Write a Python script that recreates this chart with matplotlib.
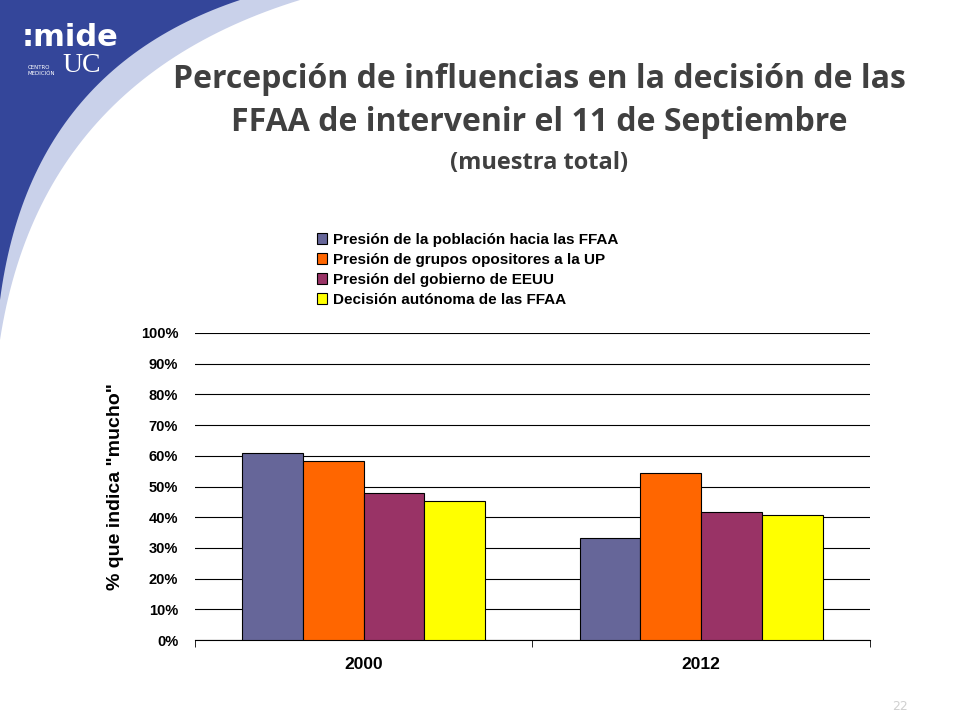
import matplotlib
matplotlib.use('Agg')
import matplotlib.pyplot as plt
from matplotlib.patches import Polygon
import numpy as np

years = ['2000', '2012']
series_names = ['Presión de la población hacia las FFAA',
                'Presión de grupos opositores a la UP',
                'Presión del gobierno de EEUU',
                'Decisión autónoma de las FFAA']
values_2000 = [60.9, 58.4, 47.9, 45.3]
values_2012 = [33.2, 54.4, 41.7, 40.8]
colors = ['#666699', '#ff6600', '#993366', '#ffff00']

fig = plt.figure(figsize=(9.6, 7.2), dpi=100)

# decorative blue swoosh top-left (pixel coords)
bg = fig.add_axes([0, 0, 1, 1], zorder=0)
bg.set_xlim(0, 960); bg.set_ylim(720, 0); bg.axis('off')
t = np.linspace(0, 1, 60)
def curve(p0, p1, p2):
    return [((1-s)**2*p0[0] + 2*(1-s)*s*p1[0] + s**2*p2[0],
             (1-s)**2*p0[1] + 2*(1-s)*s*p1[1] + s**2*p2[1]) for s in t]
outer = curve((300, 0), (40, 80), (0, 340))
bg.add_patch(Polygon([(0, 0)] + outer, closed=True, color='#c9d1ea', lw=0))
inner = curve((240, 0), (30, 70), (0, 300))
bg.add_patch(Polygon([(0, 0)] + inner, closed=True, color='#34469a', lw=0))
bg.text(22, 52, ':mide', color='white', fontsize=22, fontweight='bold', va='bottom')
bg.text(62, 78, 'UC', color='white', fontsize=20, va='bottom', family='Liberation Serif')
bg.text(28, 76, 'CENTRO\nMEDICIÓN', color='white', fontsize=4, va='bottom')
bg.text(900, 706, '22', color='#d0d0d0', fontsize=9, ha='center', va='center')

fig.text(0.562, 0.89, 'Percepción de influencias en la decisión de las',
         ha='center', va='center', fontsize=23, fontweight='bold', color='#404040', family='Open Sans')
fig.text(0.562, 0.83, 'FFAA de intervenir el 11 de Septiembre',
         ha='center', va='center', fontsize=23, fontweight='bold', color='#404040', family='Open Sans')
fig.text(0.562, 0.773, '(muestra total)',
         ha='center', va='center', fontsize=17, fontweight='bold', color='#404040', family='Open Sans')

ax = fig.add_axes([0.203, 0.111, 0.703, 0.4265], zorder=1)
ax.patch.set_alpha(0)
x = np.arange(len(years))
w = 0.18
for i in range(4):
    ax.bar(x + (i - 1.5) * w, [values_2000[i], values_2012[i]], w,
           color=colors[i], edgecolor='black', linewidth=0.8, label=series_names[i], zorder=3)
ax.set_ylim(0, 100)
ax.set_xlim(-0.5, 1.5)
ax.set_yticks(range(0, 101, 10))
ax.set_yticklabels([f'{v}%' for v in range(0, 101, 10)], fontsize=10.5, fontweight='bold', family='Liberation Sans')
ax.yaxis.grid(True, color='black', linewidth=0.8, zorder=0)
ax.set_xticks(x)
ax.set_xticklabels(years, fontsize=12.5, fontweight='bold', family='Liberation Sans')
ax.set_xticks([-0.5, 0.5, 1.5], minor=True)
ax.tick_params(axis='x', which='major', length=0, pad=12)
ax.tick_params(axis='x', which='minor', length=5)
ax.tick_params(axis='y', length=0, pad=12)
for s in ['top', 'right', 'left']:
    ax.spines[s].set_visible(False)
ax.set_ylabel('% que indica "mucho"', fontsize=14, fontweight='bold', family='Liberation Sans', labelpad=12)

leg = ax.legend(loc='lower left', bbox_to_anchor=(0.16, 1.04), frameon=False,
                prop={'size': 11, 'weight': 'bold', 'family': 'Liberation Sans'},
                handlelength=0.7, handleheight=0.7, labelspacing=0.4, handletextpad=0.4)

fig.savefig('out.png', dpi=100)
